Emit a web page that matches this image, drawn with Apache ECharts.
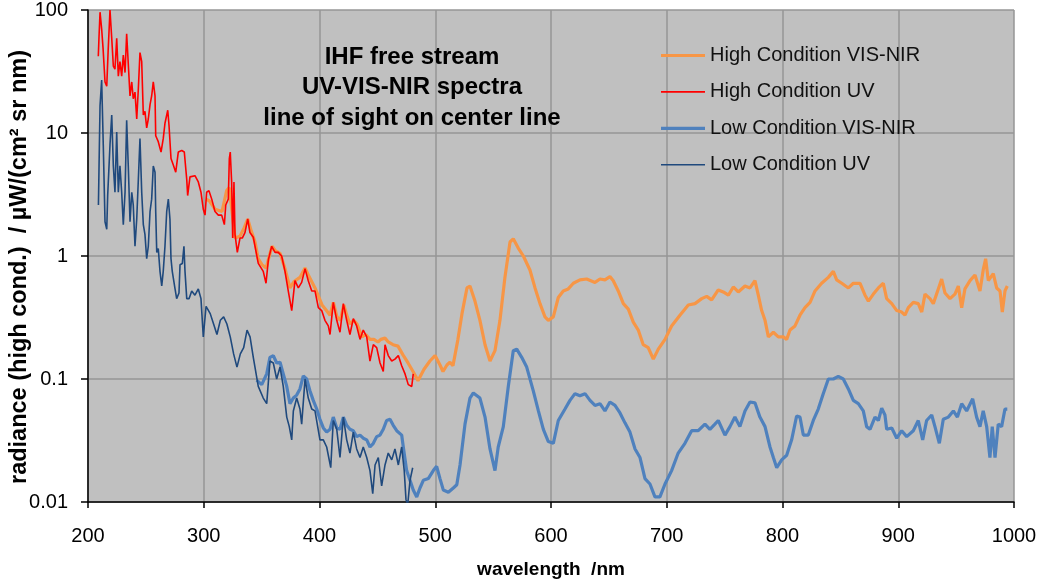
<!DOCTYPE html>
<html>
<head>
<meta charset="utf-8">
<script src="https://cdn.jsdelivr.net/npm/echarts@6/dist/echarts.min.js"></script>
<style>
html,body{margin:0;padding:0;background:#fff;}
#c{width:1040px;height:586px;}
</style>
</head>
<body>
<div id="c"></div>
<script>
var seriesNames = ['High Condition VIS-NIR', 'High Condition UV', 'Low Condition VIS-NIR', 'Low Condition UV'];
var xTicks = [200, 300, 400, 500, 600, 700, 800, 900, 1000];
var yTicks = [0.01, 0.1, 1, 10, 100];
var chartTitle = 'IHF free stream\nUV-VIS-NIR spectra\nline of sight on center line';
var xName = 'wavelength  /nm';
var yName = 'radiance (high cond.)  / µW/(cm² sr nm)';

var highVisNir = [[302,2.9],[305,2.8],[309.7,2.4],[315.8,2.3],[319.8,3.4],[322,3.6],[324,2.5],[327,1.4],[331.3,1.45],[335,1.7],[338,2.0],[341,1.6],[344.3,1.3],[347,0.95],[350.3,0.85],[354,0.8],[356,0.95],[359,1.2],[362,1.1],[366,1.05],[370,0.8],[374.5,0.55],[378,0.62],[383.1,0.67],[387.5,0.8],[391,0.68],[396.1,0.55],[402.2,0.4],[406,0.36],[409.1,0.33],[412,0.42],[415.1,0.32],[418,0.3],[421,0.4],[424,0.32],[426.3,0.28],[429.5,0.3],[432.4,0.28],[436.7,0.22],[440,0.23],[443.6,0.21],[447,0.21],[450.5,0.2],[453,0.21],[456.6,0.215],[459.4,0.2],[463.5,0.19],[467.8,0.185],[472.1,0.157],[476.5,0.135],[480.8,0.115],[485.1,0.097],[490.3,0.12],[495.4,0.14],[499.8,0.155],[504.1,0.13],[506.7,0.115],[510.1,0.13],[512.7,0.137],[515.3,0.128],[519.6,0.21],[523.1,0.34],[527.4,0.55],[530,0.57],[534.3,0.43],[538.6,0.3],[543,0.19],[547.3,0.14],[551.6,0.17],[555.9,0.3],[560.2,0.67],[564.6,1.3],[567.4,1.38],[571.7,1.16],[576.1,1.0],[581.8,0.77],[586.2,0.55],[590.5,0.41],[594.8,0.32],[597.7,0.3],[602,0.32],[606.3,0.46],[610.6,0.52],[614.9,0.54],[619.3,0.6],[625,0.64],[630.8,0.65],[638,0.61],[642.3,0.65],[646.6,0.64],[650.9,0.68],[653.8,0.63],[658.1,0.52],[662.5,0.41],[666.8,0.37],[671.1,0.29],[675.4,0.25],[679.7,0.19],[684,0.18],[688.4,0.145],[692.7,0.175],[698.5,0.21],[704.2,0.27],[711.4,0.33],[718.6,0.4],[724.4,0.41],[730.2,0.45],[734.5,0.47],[738.8,0.44],[744.5,0.53],[748.8,0.51],[753.2,0.48],[757.5,0.56],[761.8,0.51],[767.6,0.57],[771.9,0.55],[776.2,0.63],[779.1,0.48],[782,0.36],[784.9,0.3],[787.8,0.22],[792.1,0.24],[796.4,0.22],[800.7,0.22],[803.6,0.21],[806.5,0.25],[810.8,0.27],[815.1,0.33],[819.4,0.38],[823.8,0.42],[828.1,0.52],[833.8,0.6],[839.6,0.67],[843.9,0.75],[846.8,0.64],[851.2,0.6],[856.9,0.55],[861.2,0.6],[867,0.6],[871.3,0.48],[874.2,0.43],[878.5,0.49],[882.8,0.55],[887.1,0.6],[890,0.45],[894.4,0.41],[898.7,0.36],[903,0.35],[905.8,0.33],[908.7,0.38],[913,0.42],[917.3,0.41],[920.3,0.35],[923.1,0.49],[927.4,0.45],[930.3,0.41],[934.6,0.54],[937.5,0.65],[940.4,0.5],[944.7,0.45],[949,0.49],[951.9,0.57],[954.8,0.38],[957.6,0.54],[962,0.63],[966.3,0.7],[970.6,0.52],[973.4,0.77],[975.5,0.95],[977.8,0.63],[982.1,0.72],[985,0.55],[987.9,0.52],[989.9,0.35],[992.2,0.52],[994.2,0.57]];

var highUv = [[208.9,42],[209.5,60],[210.4,96],[211.8,70],[213,49],[214.7,26],[216.2,24],[217.5,49],[219,100],[220.5,59],[221.9,35],[223.3,33],[224.8,59],[226.2,29],[227.6,38],[229.1,29],[230.5,43],[232,31],[233.4,64],[234.8,66],[236.3,20],[237.8,26],[239.1,19],[240.6,21.5],[242.1,13],[243.5,23],[244.9,45],[246.4,38],[247.8,14],[249.2,15],[250.7,11],[252.1,13],[253.6,17],[255,20],[256.4,26],[257.9,20],[258.5,9.5],[260.7,8.5],[263.1,7],[265,9],[266.5,12],[268.9,15.3],[270,11.5],[271.7,6.2],[273.7,5.5],[275.8,4.8],[278,7],[281,7.2],[283.2,7],[285.3,4.2],[286.1,3.1],[288.1,4.4],[292.4,4.5],[295.3,4],[297.6,3.3],[299.6,2.4],[301.1,2.15],[302.5,3.3],[304.5,3.4],[306.9,2.9],[309.7,2.3],[312.6,2.15],[315.5,2.15],[317.8,1.8],[319,2.6],[321.2,2.9],[322.1,6.2],[322.9,7],[324.1,4],[325,1.4],[326.1,4],[327,1.5],[329,1.07],[331.3,1.4],[333.3,1.4],[335.6,1.55],[338,2.0],[339.9,1.55],[342.8,1.42],[347.1,0.87],[351.4,0.75],[353.8,0.6],[355.8,0.93],[358.7,1.2],[361.6,1.07],[364.4,1.07],[367.3,1.0],[370.2,0.75],[373,0.52],[376,0.36],[378.8,0.63],[381.7,0.55],[384.6,0.61],[387.5,0.79],[390.3,0.63],[393.3,0.52],[396.1,0.52],[399,0.38],[401.9,0.36],[404.7,0.3],[407.6,0.27],[409.1,0.23],[411.9,0.42],[414.9,0.3],[417.7,0.24],[420.6,0.41],[423.5,0.3],[426.3,0.23],[429.2,0.31],[432.1,0.27],[435,0.21],[437.8,0.25],[440.8,0.22],[443.6,0.14],[446.5,0.19],[449.4,0.18],[452.3,0.135],[455.1,0.115],[456.6,0.19],[459.4,0.155],[462.4,0.14],[465.2,0.145],[468.1,0.155],[471,0.128],[473.9,0.11],[476.7,0.09],[479.7,0.087],[481,0.11]];

var lowVisNir = [[345.7,0.098],[350.1,0.09],[354.4,0.11],[357.2,0.15],[360.1,0.155],[363,0.135],[365.9,0.137],[368.7,0.11],[371.7,0.087],[374.5,0.063],[377.4,0.07],[380.3,0.074],[383.1,0.083],[386,0.106],[388.9,0.1],[391.8,0.08],[394.6,0.067],[397.6,0.057],[400.4,0.047],[403.3,0.04],[406.2,0.037],[409.1,0.039],[411.9,0.049],[414.9,0.04],[417.7,0.039],[420.6,0.049],[423.5,0.042],[426.3,0.039],[429.2,0.038],[432.1,0.034],[435,0.035],[437.8,0.033],[440.8,0.032],[443.6,0.028],[446.5,0.03],[449.4,0.034],[452.3,0.035],[455.1,0.039],[458,0.046],[460.9,0.047],[463.7,0.042],[466.7,0.038],[471,0.035],[472.4,0.028],[475.3,0.018],[478.2,0.015],[481,0.0125],[484,0.011],[486.8,0.013],[489.7,0.015],[494,0.0155],[498.3,0.018],[501.2,0.0195],[504.1,0.0155],[507,0.0125],[511.3,0.012],[515.6,0.013],[518.6,0.0138],[521.4,0.02],[525.7,0.043],[530,0.07],[532.9,0.077],[538.6,0.07],[543,0.049],[547.3,0.027],[551.6,0.018],[554.4,0.028],[558.8,0.041],[563.1,0.087],[567.4,0.17],[570.4,0.175],[574.7,0.15],[579,0.125],[584.7,0.08],[589.1,0.055],[593.4,0.039],[597.7,0.031],[602,0.03],[606.3,0.046],[612.1,0.057],[616.4,0.067],[620.7,0.076],[625,0.073],[629.4,0.076],[633.7,0.067],[638,0.061],[642.3,0.063],[646.6,0.055],[650.9,0.065],[655.3,0.061],[659.6,0.053],[663.9,0.044],[668.2,0.037],[672.6,0.027],[676.9,0.023],[681.2,0.0155],[685.5,0.014],[689.8,0.011],[694.1,0.011],[698.5,0.014],[704.2,0.018],[709.9,0.025],[715.7,0.03],[721.5,0.038],[727.2,0.038],[733,0.043],[737.3,0.039],[741.6,0.043],[744.5,0.046],[750.3,0.035],[754.6,0.041],[758.9,0.049],[763.2,0.041],[767.6,0.055],[771.9,0.065],[776.2,0.064],[780.5,0.049],[784.9,0.041],[789.2,0.028],[792.1,0.023],[795,0.019],[799.3,0.022],[803.6,0.024],[807.9,0.032],[812.2,0.05],[815.1,0.049],[818,0.035],[822.3,0.035],[826.6,0.046],[830.9,0.057],[835.2,0.076],[839.6,0.1],[843.9,0.1],[848.2,0.105],[852.5,0.1],[856.9,0.083],[861.2,0.067],[865.5,0.063],[869.8,0.055],[872.7,0.041],[875.6,0.039],[879.9,0.049],[882.8,0.046],[885.7,0.058],[888.5,0.051],[890,0.039],[894.4,0.04],[898.7,0.033],[903,0.038],[907.3,0.034],[913,0.038],[917.3,0.046],[921.1,0.032],[924.5,0.046],[928.9,0.051],[931.7,0.041],[935.5,0.03],[938.9,0.047],[943.3,0.049],[947.6,0.055],[951.1,0.049],[954.8,0.063],[959.1,0.055],[964.3,0.069],[967.7,0.049],[970.6,0.041],[973.4,0.055],[976.4,0.041],[979.2,0.023],[981.2,0.041],[983.6,0.023],[986.4,0.043],[989.3,0.041],[992.2,0.057],[994.2,0.057]];

var lowUv = [[209,2.6],[209.5,5.1],[210.4,16.7],[211.8,27],[213.2,8],[214.7,1.9],[216.2,1.65],[217,3.1],[219,8],[220.5,14],[221.9,5.4],[223.3,3.3],[224.8,10.2],[226.2,3.3],[227.6,5.4],[229.1,3.3],[230.5,1.8],[232,3.3],[233.4,12.7],[234.8,5.4],[236.3,1.9],[237.8,3.3],[239.1,2.6],[240.6,1.2],[242.1,2.0],[243.5,4.2],[244.9,9],[246.4,3.3],[247.8,1.8],[249.2,1.5],[250.7,0.95],[252.1,1.2],[253.6,2.3],[255,2.9],[256.4,5.4],[257.9,4.8],[258.5,2.3],[259.4,1.07],[260.7,1.15],[262.2,0.75],[263.7,0.57],[265,0.75],[266.5,1.2],[268,2.3],[269.4,2.9],[270.8,2.0],[271.7,0.95],[272.8,0.75],[275.2,0.54],[276.6,0.45],[278.6,0.5],[279.5,0.85],[281.5,0.87],[282.9,1.2],[283.8,0.75],[285.3,0.45],[287.3,0.45],[289.6,0.52],[292.4,0.48],[295.3,0.54],[297.6,0.45],[299.6,0.22],[302,0.39],[305.6,0.34],[308.5,0.28],[311.4,0.23],[314.3,0.3],[317.2,0.32],[320,0.28],[322.9,0.22],[325.8,0.16],[328.7,0.125],[331.6,0.16],[334.5,0.18],[337.4,0.25],[340,0.22],[342.8,0.15],[347.1,0.087],[351.4,0.07],[354.4,0.063],[357.2,0.14],[360.1,0.135],[363,0.1],[365.9,0.125],[368.7,0.087],[371.7,0.049],[373.9,0.041],[376,0.032],[377.4,0.055],[380.3,0.07],[383.1,0.057],[384.6,0.043],[387.5,0.1],[390.3,0.07],[393.3,0.057],[396.1,0.055],[400.4,0.032],[403.3,0.032],[406.2,0.028],[409.7,0.019],[411.9,0.046],[414.9,0.039],[417.7,0.023],[420.6,0.049],[423.5,0.032],[426.3,0.025],[429.2,0.037],[432.1,0.027],[435,0.023],[437.8,0.028],[440.8,0.023],[443.6,0.018],[446,0.0117],[448,0.02],[450.8,0.023],[453.7,0.0135],[456.6,0.02],[459.4,0.025],[462.4,0.022],[465.2,0.027],[468.1,0.02],[471,0.028],[473.2,0.018],[474.7,0.0105],[476.2,0.0095],[478.2,0.015],[480.5,0.019]];

var colors = ['#F79646', '#FF0000', '#4F81BD', '#1F497D'];
var widths = [3.2, 1.6, 3.2, 1.6];
var seriesData = [highVisNir, highUv, lowVisNir, lowUv];

var FONT = 'Liberation Sans, Arial, sans-serif';
var chart = echarts.init(document.getElementById('c'), null, {renderer: 'canvas'});

var series = seriesNames.map(function (n, i) {
  return {
    name: n,
    type: 'line',
    data: seriesData[i],
    showSymbol: false,
    symbol: 'none',
    smooth: false,
    animation: false,
    clip: true,
    lineStyle: {color: colors[i], width: widths[i]},
    itemStyle: {color: colors[i]},
    z: 2 + i
  };
});

var legendData = seriesNames.map(function (n, i) {
  var h = widths[i] > 2 ? 3.2 : 1.6;
  return {name: n, icon: 'path://M0,0H44V' + h + 'H0Z', itemStyle: {color: colors[i]}};
});

chart.setOption({
  animation: false,
  backgroundColor: '#ffffff',
  title: {
    text: chartTitle,
    left: 407,
    top: 37,
    textAlign: 'center',
    textStyle: {fontFamily: FONT, fontSize: 24, fontWeight: 'bold', color: '#000', lineHeight: 30.5}
  },
  legend: {
    orient: 'vertical',
    left: 656,
    top: 40.5,
    itemWidth: 44,
    itemHeight: 14,
    itemGap: 16.4,
    symbolKeepAspect: true,
    data: legendData,
    textStyle: {fontFamily: FONT, fontSize: 20, color: '#111'},
    selectedMode: false
  },
  graphic: [{
    type: 'text',
    x: 20,
    y: 267,
    rotation: Math.PI / 2,
    silent: true,
    style: {
      text: yName,
      font: 'bold 23.5px ' + FONT,
      fill: '#000',
      align: 'center',
      verticalAlign: 'middle',
      textAlign: 'center',
      textVerticalAlign: 'middle'
    }
  }],
  grid: {left: 88, right: 26, top: 10, bottom: 84, show: true, backgroundColor: '#C0C0C0', borderWidth: 0, containLabel: false, outerBoundsMode: 'none'},
  xAxis: {
    type: 'value',
    min: xTicks[0],
    max: xTicks[xTicks.length - 1],
    interval: 100,
    name: xName,
    nameLocation: 'middle',
    nameGap: 58,
    nameTextStyle: {fontFamily: FONT, fontSize: 19, fontWeight: 'bold', color: '#000'},
    axisLine: {show: true, onZero: false, lineStyle: {color: '#000', width: 1.5}},
    axisTick: {show: true, inside: false, length: 6, lineStyle: {color: '#000', width: 1.5}},
    axisLabel: {fontFamily: FONT, fontSize: 20, color: '#000', margin: 24, formatter: function (v) { return String(v); }},
    splitLine: {show: true, lineStyle: {color: '#969696', width: 1.5}}
  },
  yAxis: {
    type: 'log',
    logBase: 10,
    min: yTicks[0],
    max: yTicks[yTicks.length - 1],
    axisLine: {show: true, lineStyle: {color: '#000', width: 1.5}},
    axisTick: {show: true, inside: false, length: 7, lineStyle: {color: '#000', width: 1.5}},
    axisLabel: {
      fontFamily: FONT, fontSize: 20, color: '#000', margin: 20,
      formatter: function (v) {
        var best = yTicks.reduce(function (a, b) { return Math.abs(Math.log10(b) - Math.log10(v)) < Math.abs(Math.log10(a) - Math.log10(v)) ? b : a; });
        return String(best);
      }
    },
    splitLine: {show: true, lineStyle: {color: '#969696', width: 1.5}},
    minorTick: {show: false},
    minorSplitLine: {show: false}
  },
  series: series
});
</script>
</body>
</html>
